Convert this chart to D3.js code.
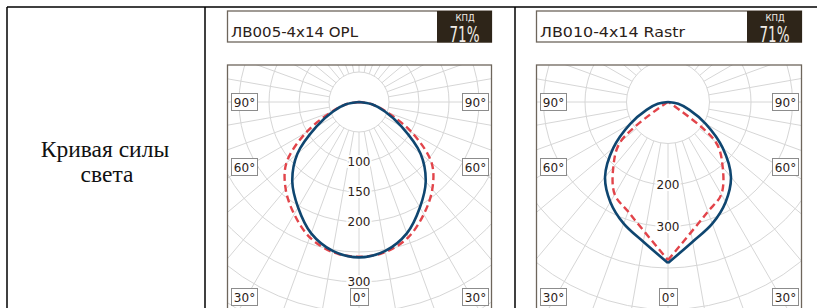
<!DOCTYPE html>
<html>
<head>
<meta charset="utf-8">
<script src="https://cdn.jsdelivr.net/npm/d3@7"></script>
<style>
body { margin: 0; background: #fff; }
</style>
</head>
<body>
<script>
// light distribution curves, gamma from nadir (deg) -> cd/klm
var angles = [0, 10, 20, 30, 40, 50, 60, 70, 80, 90];
var oplSolid = [259, 252, 233, 203, 173, 134, 82, 46, 22, 0];
var oplDashed = [258, 254, 240, 216, 190, 158, 102, 50, 22, 0];
var rastrSolid = [388, 342, 312, 278, 236, 172, 105, 55, 25, 0];
var rastrDashed = [381, 319, 281, 257, 205, 150, 8, 0, 0, 0];

var oplTicks = [100, 150, 200, 300];
var rastrTicks = [200, 300];
var angleLabels = ["90°", "60°", "30°", "0°"];
var titles = ["ЛВ005-4x14  OPL", "ЛВ010-4x14 Rastr"];
var kpdValues = ["71%", "71%"];

var W = 817, H = 308;

var svg = d3.select("body").append("svg")
    .attr("width", W)
    .attr("height", H);

// table lines
var tableColor = "#000";
svg.append("line").attr("x1", 7).attr("x2", W).attr("y1", 7).attr("y2", 7)
    .attr("stroke", tableColor).attr("stroke-width", 1.5);
[7, 205, 515].forEach(function(x) {
    svg.append("line").attr("x1", x).attr("x2", x).attr("y1", 7).attr("y2", H)
        .attr("stroke", tableColor).attr("stroke-width", 1.5);
});

// left cell caption
var caption = svg.append("text")
    .attr("text-anchor", "middle")
    .style("font-family", "'Liberation Serif', 'Times New Roman', serif")
    .style("font-size", "23.5px")
    .attr("fill", "#111");
caption.append("tspan").attr("x", 105).attr("y", 157).text("Кривая силы");
caption.append("tspan").attr("x", 107).attr("y", 182).text("света");

var panels = [
    { x0: 227, x1: 492, cx: 359, step: 50, stepPx: 30, maxV: 500, split: false,
      ticks: oplTicks, solid: oplSolid, dashed: oplDashed, title: titles[0], kpd: kpdValues[0], titleLen: 127 },
    { x0: 536, x1: 802, cx: 668, step: 100, stepPx: 41.5, maxV: 700, split: true,
      ticks: rastrTicks, solid: rastrSolid, dashed: rastrDashed, title: titles[1], kpd: kpdValues[1], titleLen: 145 }
];

var cy = 102, frameTop = 65;
var frameColor = "#6e665c", darkBox = "#2e2519", textDark = "#2b2118";
var condensed = "'DejaVu Sans Condensed', 'DejaVu Sans', sans-serif";

panels.forEach(function(p, i) {
    var g = svg.append("g");
    var r = d3.scaleLinear().domain([0, p.step]).range([0, p.stepPx]);

    // header
    g.append("rect")
        .attr("x", p.x0 + 0.5).attr("y", 11)
        .attr("width", p.x1 - p.x0 - 1).attr("height", 31)
        .attr("fill", "#fff").attr("stroke", frameColor).attr("stroke-width", 1.3);
    g.append("rect")
        .attr("x", p.x1 - 55).attr("y", 11)
        .attr("width", 55).attr("height", 31.5)
        .attr("fill", darkBox);
    g.append("text")
        .attr("x", p.x0 + 4).attr("y", 36.5)
        .attr("textLength", p.titleLen).attr("lengthAdjust", "spacingAndGlyphs")
        .style("font-family", condensed)
        .style("font-size", "14px")
        .attr("fill", textDark)
        .text(p.title);
    g.append("text")
        .attr("x", p.x1 - 27).attr("y", 21)
        .attr("text-anchor", "middle")
        .style("font-family", condensed)
        .style("font-size", "9.5px")
        .attr("fill", "#f2eee8")
        .text("КПД");
    g.append("text")
        .attr("x", p.x1 - 27.5).attr("y", 42)
        .attr("text-anchor", "middle")
        .attr("textLength", 30).attr("lengthAdjust", "spacingAndGlyphs")
        .style("font-family", condensed)
        .style("font-size", "20.5px")
        .attr("fill", "#f2eee8")
        .text(p.kpd);

    // plot clip
    var clipId = "clip" + i;
    svg.append("clipPath").attr("id", clipId)
        .append("rect")
        .attr("x", p.x0).attr("y", frameTop)
        .attr("width", p.x1 - p.x0).attr("height", H - frameTop + 5);

    var plot = g.append("g").attr("clip-path", "url(#" + clipId + ")");
    var c = plot.append("g").attr("transform", "translate(" + p.cx + "," + cy + ")");

    // grid circles
    c.selectAll(".ring")
        .data(d3.range(p.step, p.maxV, p.step))
        .enter().append("circle")
        .attr("class", "ring")
        .attr("r", function(d) { return r(d); })
        .attr("fill", "none")
        .attr("stroke", "#d6d6d6")
        .attr("stroke-width", 1);

    // radial spokes from the first ring outward
    c.selectAll(".spoke")
        .data(d3.range(0, 360, 10))
        .enter().append("line")
        .attr("class", "spoke")
        .attr("x1", function(d) { return r(p.step) * Math.sin(d * Math.PI / 180); })
        .attr("y1", function(d) { return r(p.step) * Math.cos(d * Math.PI / 180); })
        .attr("x2", function(d) { return 400 * Math.sin(d * Math.PI / 180); })
        .attr("y2", function(d) { return 400 * Math.cos(d * Math.PI / 180); })
        .attr("stroke", "#d6d6d6")
        .attr("stroke-width", 1);

    // ring labels
    c.selectAll(".tick")
        .data(p.ticks)
        .enter().append("text")
        .attr("class", "tick")
        .attr("x", 0)
        .attr("y", function(d) { return r(d); })
        .attr("dy", "0.35em")
        .attr("text-anchor", "middle")
        .style("font-family", "'DejaVu Sans', Verdana, sans-serif")
        .style("font-size", "12px")
        .attr("fill", textDark)
        .attr("stroke", "#fff").attr("stroke-width", 4)
        .attr("paint-order", "stroke")
        .text(function(d) { return d; });

    // curves
    var line = d3.lineRadial()
        .angle(function(d) { return Math.PI - d[0] * Math.PI / 180; })
        .radius(function(d) { return r(d[1]); })
        .curve(d3.curveCatmullRom.alpha(0.5));

    function halves(vals) {
        var left = angles.map(function(a, k) { return [-a, vals[k]]; }).reverse();
        var right = angles.map(function(a, k) { return [a, vals[k]]; });
        if (p.split) return [left, right];
        return [left.concat(right.slice(1))];
    }

    c.selectAll(".dashed")
        .data(halves(p.dashed))
        .enter().append("path")
        .attr("class", "dashed")
        .attr("d", line)
        .attr("fill", "none")
        .attr("stroke", "#e2444a")
        .attr("stroke-width", 2.4)
        .attr("stroke-dasharray", "7,4");
    c.selectAll(".solid")
        .data(halves(p.solid))
        .enter().append("path")
        .attr("class", "solid")
        .attr("d", line)
        .attr("fill", "none")
        .attr("stroke", "#0f4670")
        .attr("stroke-width", 2.6)
        .attr("stroke-linejoin", "round");

    // frame
    g.append("rect")
        .attr("x", p.x0 + 0.5).attr("y", frameTop)
        .attr("width", p.x1 - p.x0 - 1).attr("height", H)
        .attr("fill", "none").attr("stroke", frameColor).attr("stroke-width", 1.3);

    // angle label boxes
    var boxes = [
        { t: angleLabels[0], x: p.x0 + 4, y: 93, w: 26 },
        { t: angleLabels[0], x: p.x1 - 30, y: 93, w: 26 },
        { t: angleLabels[1], x: p.x0 + 4, y: 158, w: 26 },
        { t: angleLabels[1], x: p.x1 - 30, y: 158, w: 26 },
        { t: angleLabels[2], x: p.x0 + 4, y: 288, w: 26 },
        { t: angleLabels[2], x: p.x1 - 30, y: 288, w: 26 },
        { t: angleLabels[3], x: p.cx - 9, y: 288, w: 18 }
    ];
    var b = g.selectAll(".abox")
        .data(boxes)
        .enter().append("g")
        .attr("class", "abox")
        .attr("transform", function(d) { return "translate(" + d.x + "," + d.y + ")"; });
    b.append("rect")
        .attr("x", 0.5).attr("y", 0.5)
        .attr("width", function(d) { return d.w; })
        .attr("height", 17)
        .attr("fill", "#fff")
        .attr("stroke", "#8c8c8c")
        .attr("stroke-width", 1);
    b.append("text")
        .attr("x", function(d) { return d.w / 2 + 0.5; })
        .attr("y", 13.5)
        .attr("text-anchor", "middle")
        .style("font-family", "'DejaVu Sans', Verdana, sans-serif")
        .style("font-size", "12px")
        .attr("fill", textDark)
        .text(function(d) { return d.t; });
});
</script>
</body>
</html>
